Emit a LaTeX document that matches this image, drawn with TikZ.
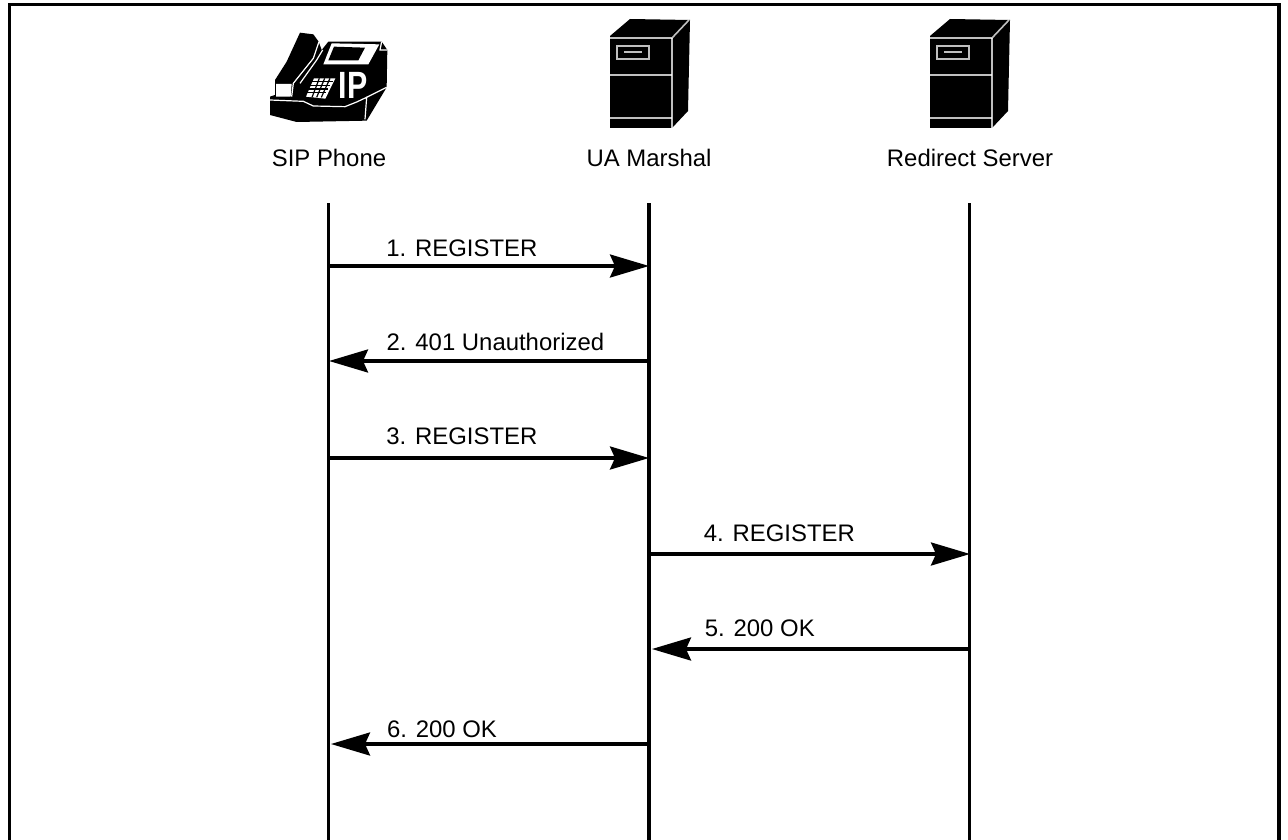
\documentclass[tikz,border=0pt]{standalone}
\usepackage{fontspec}
\setmainfont{Liberation Sans}
\usetikzlibrary{arrows.meta}
\def\px{0.7113pt}
\tikzset{
  frameline/.style={line width=3.2*\px},
  lifeline/.style={line width=3.2*\px},
  msg/.style={line width=3.2*\px,-{Stealth[length=39*\px,width=23*\px,inset=5*\px]}},
  msglabel/.style={above,inner sep=0pt,font=\fontsize{17}{20}\selectfont},
  headlabel/.style={inner sep=0pt,font=\fontsize{17}{20}\selectfont},
  iconline/.style={white,line width=1.2*\px},
  serverline/.style={white,line width=1.6*\px,opacity=.75}
}
% server tower, drawn from its top left corner
\newcommand{\servericon}[1]{
\begin{scope}[shift={(#1,0)}]
\fill (610,36) -- (630,19) -- (690,20) -- (688,111) -- (672,128) -- (610,128) -- cycle;
\draw[serverline] (610,38) -- (672,38) -- (689,20);
\draw[serverline] (672,38) -- (672,128);
\draw[serverline] (610,75) -- (672,75);
\draw[serverline] (610,118) -- (672,118);
\draw[serverline] (617,46) rectangle (649,59);
\draw[serverline] (624,52) -- (642,52);
\end{scope}
}
\begin{document}
\begin{tikzpicture}[x=0.025cm,y=-0.025cm]
\useasboundingbox (0,0) rectangle (1288,840);
% outer frame, open at the bottom
\coordinate (frameA) at (9.5,840);
\coordinate (frameB) at (9.5,4.5);
\coordinate (frameC) at (1279,4.5);
\coordinate (frameD) at (1279,840);
\draw[frameline] (frameA) -- (frameB) -- (frameC) -- (frameD);
% phone
\begin{scope}[shift={(250,0)},x=0.00833cm,y=-0.00833cm]
\fill (150,98) -- (190,103) -- (206,125) -- (215,150) -- (235,125) -- (395,125) -- (412,150) -- (410,262) -- (350,362) -- (140,366) -- (60,345) -- (60,290) -- (75,285) -- (75,240) -- (110,185) -- cycle;
\draw[iconline] (207,125) -- (190,175) -- (130,250) -- (125,290);
\draw[iconline] (218,150) -- (200,180) -- (150,250);
\fill[white] (245,130) -- (388,133) -- (355,193) -- (220,193) -- cycle;
\fill (252,140) -- (345,143) -- (325,181) -- (235,181) -- cycle;
\fill[white] (78,252) -- (125,252) -- (122,290) -- (78,290) -- cycle;
\fill[white] (192,235) -- (256,235) -- (226,296) -- (168,290) -- cycle;
\foreach \i in {0,1,2,3}
  \draw[line width=1.2*\px] (186+\i*-5,245+\i*11) -- (248-\i*7,245+\i*11);
\foreach \i in {1,2,3}
  \draw[line width=1.2*\px] (192+\i*16,235) -- (172+\i*14,292);
\node[inner sep=0pt,text=white,font=\bfseries\fontsize{27}{27}\selectfont,xscale=.8] (phoneIP) at (310,255) {IP};
\draw[iconline] (60,300) -- (160,304) -- (190,318) -- (285,320) -- (320,306) -- (350,292) -- (345,358);
\draw[iconline] (350,292) -- (410,262);
\draw[iconline] (395,125) -- (390,150) -- (412,150);
\end{scope}
% servers
\servericon{0}
\servericon{320}
% headings
\node[headlabel] (phoneLabel) at (329,158) {SIP Phone};
\node[headlabel] (marshalLabel) at (649,158) {UA Marshal};
\node[headlabel] (redirectLabel) at (970,158) {Redirect Server};
% life lines
\coordinate (phoneTop) at (328.5,203);
\coordinate (phoneEnd) at (328.5,840);
\coordinate (marshalTop) at (649,203);
\coordinate (marshalEnd) at (649,840);
\coordinate (redirectTop) at (969.5,203);
\coordinate (redirectEnd) at (969.5,840);
\draw[lifeline] (phoneTop) -- (phoneEnd);
\draw[lifeline] (marshalTop) -- (marshalEnd);
\draw[lifeline] (redirectTop) -- (redirectEnd);
% ends of the messages
\coordinate (p1) at (328,266);
\coordinate (m1) at (649,266);
\coordinate (p2) at (329,361);
\coordinate (m2) at (649,361);
\coordinate (p3) at (328,458);
\coordinate (m3) at (649,458);
\coordinate (m4) at (649,554);
\coordinate (r4) at (970,554);
\coordinate (m5) at (652,649);
\coordinate (r5) at (970,649);
\coordinate (p6) at (331,744);
\coordinate (m6) at (649,744);
% messages
\draw[msg] (p1) -- node[msglabel,pos=.417,yshift=8*\px] (msgA) {1. REGISTER} (m1);
\draw[msg] (m2) -- node[msglabel,pos=.48,yshift=9*\px] (msgB) {2. 401 Unauthorized} (p2);
\draw[msg] (p3) -- node[msglabel,pos=.417,yshift=12*\px] (msgC) {3. REGISTER} (m3);
\draw[msg] (m4) -- node[msglabel,pos=.406,yshift=11*\px] (msgD) {4. REGISTER} (r4);
\draw[msg] (r5) -- node[msglabel,pos=.661,yshift=11*\px] (msgE) {5. 200 OK} (m5);
\draw[msg] (m6) -- node[msglabel,pos=.651,yshift=5*\px] (msgF) {6. 200 OK} (p6);
\end{tikzpicture}
\end{document}
